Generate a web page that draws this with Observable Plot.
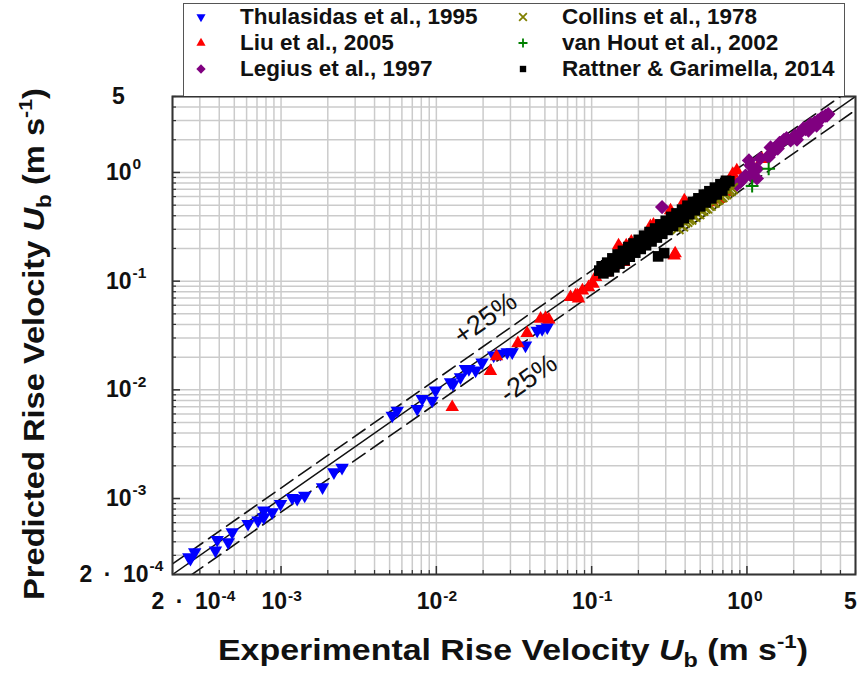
<!DOCTYPE html>
<html>
<head>
<meta charset="utf-8">
<script src="https://cdn.jsdelivr.net/npm/d3@7"></script>
<script src="https://cdn.jsdelivr.net/npm/@observablehq/plot@0.6"></script>
<style>
  body { margin: 0; background: #fff; }
  #chart { position: relative; width: 865px; height: 682px; font-family: "Liberation Sans", Arial, sans-serif; }
  #chart svg.main { position: absolute; left: 0; top: 0; overflow: visible; }
  #legend { position: absolute; left: 183px; top: 3px; width: 662px; height: 93px; box-sizing: border-box;
            border: 1.5px solid #555; border-bottom: none; background: #fff; }
  #legend .item { position: absolute; height: 26px; display: flex; align-items: center; }
  #legend .item svg { width: 34px; height: 26px; }
  #legend .item span { margin-left: 22px; font-weight: bold; font-size: 22.5px; color: #111; white-space: nowrap; }
</style>
</head>
<body>
<div id="chart"><div id="legend"></div></div>
<script>
// Experimental vs predicted Taylor-bubble rise velocity (m/s), per source study.
const thulasidas = [
  [2.55e-4, 2.89e-4], [2.61e-4, 2.79e-4], [2.78e-4, 3.21e-4], [3.78e-4, 3.33e-4], [3.88e-4, 4.17e-4],
  [4.57e-4, 3.96e-4], [4.85e-4, 4.90e-4], [6.13e-4, 5.85e-4], [7.11e-4, 6.28e-4], [7.74e-4, 6.73e-4],
  [7.74e-4, 7.76e-4], [8.77e-4, 7.48e-4], [9.92e-4, 8.94e-4], [1.18e-3, 1.015e-3], [1.27e-3, 9.94e-4],
  [1.42e-3, 1.066e-3], [1.85e-3, 1.27e-3], [2.19e-3, 1.75e-3], [2.47e-3, 1.92e-3],
  [5.20e-3, 5.80e-3], [5.60e-3, 6.45e-3], [7.53e-3, 6.69e-3], [8.11e-3, 8.27e-3], [9.40e-3, 7.97e-3],
  [9.88e-3, 9.86e-3], [0.01234, 0.01175], [0.0128, 0.0113], [0.0143, 0.01306], [0.0154, 0.0156],
  [0.0162, 0.0156], [0.0179, 0.0151], [0.0197, 0.0179], [0.0234, 0.0207], [0.0259, 0.0215],
  [0.0286, 0.0222], [0.0308, 0.0222], [0.0375, 0.0256], [0.0446, 0.0351], [0.048, 0.0364], [0.0518, 0.0377]
];
const liu = [
  [0.01265, 0.00692], [0.0223, 0.0149], [0.0244, 0.0203], [0.0335, 0.0268], [0.0384, 0.0332],
  [0.0469, 0.045], [0.0505, 0.0458], [0.053, 0.0443],
  [0.0731, 0.0712], [0.0787, 0.0737], [0.081, 0.0737], [0.0823, 0.0690], [0.0872, 0.082],
  [0.0955, 0.0879], [0.102, 0.0945], [0.106, 0.109], [0.114, 0.122], [0.123, 0.120], [0.132, 0.139],
  [0.139, 0.139], [0.149, 0.213], [0.153, 0.199], [0.161, 0.150], [0.167, 0.213], [0.180, 0.230],
  [0.239, 0.32], [0.250, 0.330], [0.340, 0.172], [0.345, 0.180], [0.322, 0.447], [0.395, 0.552],
  [0.402, 0.53], [0.56, 0.552], [0.60, 0.53], [0.66, 0.57], [0.70, 0.80], [0.74, 0.66],
  [0.80, 0.89], [0.81, 0.97], [0.86, 1.04], [1.25, 1.33]
];
const legius = [
  [0.284, 0.48],
  [0.862, 0.77], [0.909, 0.82], [0.935, 0.86], [0.979, 0.938], [1.03, 1.29], [1.054, 0.938],
  [1.054, 1.16], [1.08, 1.12], [1.13, 1.04], [1.16, 1.08], [1.16, 0.88], [1.22, 1.35], [1.38, 1.43],
  [1.38, 1.38], [1.42, 1.70], [1.49, 1.59], [1.58, 1.66], [1.62, 1.87], [1.66, 1.87], [1.73, 2.0],
  [1.80, 2.07], [1.91, 1.97], [1.97, 2.07], [2.04, 2.19], [2.10, 2.0], [2.21, 2.34], [2.31, 2.55],
  [2.38, 2.51], [2.49, 2.43], [2.56, 2.78], [2.73, 2.89], [2.81, 2.70], [2.87, 3.01], [2.98, 3.12],
  [3.07, 3.23], [3.21, 3.34], [3.28, 3.34], [3.34, 3.45]
];
const collins = [
  [0.348, 0.315], [0.36, 0.305], [0.373, 0.330], [0.385, 0.322], [0.395, 0.348], [0.41, 0.355],
  [0.42, 0.37], [0.435, 0.372], [0.45, 0.398], [0.462, 0.395], [0.478, 0.42], [0.49, 0.418],
  [0.505, 0.445], [0.52, 0.45], [0.535, 0.47], [0.55, 0.472], [0.565, 0.50], [0.58, 0.50],
  [0.598, 0.53], [0.615, 0.535], [0.632, 0.56], [0.65, 0.57], [0.67, 0.595], [0.69, 0.60],
  [0.71, 0.63], [0.73, 0.64], [0.755, 0.67], [0.78, 0.685], [0.805, 0.71]
];
const vanHout = [[1.08, 0.75], [1.38, 1.08]];
const rattner = [
  [0.112, 0.125], [0.116, 0.137], [0.119, 0.118], [0.122, 0.131], [0.126, 0.148], [0.129, 0.123],
  [0.133, 0.143], [0.136, 0.162], [0.140, 0.134], [0.143, 0.155], [0.147, 0.176], [0.151, 0.145],
  [0.155, 0.166], [0.159, 0.190], [0.163, 0.156], [0.167, 0.180], [0.172, 0.206], [0.176, 0.168],
  [0.181, 0.195], [0.186, 0.222], [0.191, 0.183], [0.196, 0.211], [0.201, 0.240], [0.207, 0.198],
  [0.212, 0.230], [0.218, 0.262], [0.224, 0.214], [0.230, 0.248], [0.236, 0.283], [0.243, 0.232],
  [0.249, 0.270], [0.256, 0.305], [0.263, 0.252], [0.270, 0.292], [0.277, 0.333], [0.285, 0.273],
  [0.292, 0.316], [0.300, 0.359], [0.308, 0.296], [0.317, 0.343], [0.325, 0.390], [0.334, 0.322],
  [0.343, 0.372], [0.352, 0.420], [0.362, 0.350], [0.372, 0.403], [0.382, 0.455], [0.392, 0.380],
  [0.403, 0.437], [0.414, 0.494], [0.425, 0.413], [0.437, 0.473], [0.449, 0.535], [0.461, 0.449],
  [0.474, 0.512], [0.487, 0.578], [0.500, 0.488], [0.514, 0.555], [0.528, 0.625], [0.543, 0.530],
  [0.558, 0.600], [0.573, 0.672], [0.589, 0.578], [0.605, 0.650], [0.622, 0.725], [0.639, 0.628],
  [0.657, 0.705], [0.675, 0.780], [0.694, 0.682], [0.713, 0.762], [0.733, 0.838], [0.770, 0.830],
  [0.124, 0.140], [0.138, 0.150], [0.150, 0.156], [0.161, 0.180], [0.174, 0.182], [0.188, 0.207],
  [0.203, 0.216], [0.221, 0.248], [0.239, 0.252], [0.259, 0.290], [0.280, 0.295], [0.304, 0.340],
  [0.328, 0.348], [0.355, 0.398], [0.383, 0.405], [0.414, 0.462], [0.445, 0.468], [0.480, 0.536],
  [0.516, 0.540], [0.555, 0.620], [0.596, 0.620], [0.640, 0.712], [0.686, 0.715], [0.725, 0.800],
  [0.268, 0.169], [0.293, 0.181]
];

// Axis range, decades and tick labels
const domain = [2e-4, 5];
const decades = [1e-3, 1e-2, 1e-1, 1];
const decadeExponents = ["-3", "-2", "-1", "0"];
const deviation = 0.25;            // ±25 % band
const bandLabels = ["+25%", "-25%"];

// Inverted triangle symbol for the Thulasidas data
const sqrt3 = Math.sqrt(3);
const triangleDown = {
  draw(context, size) {
    const y = -Math.sqrt(size / (sqrt3 * 3));
    context.moveTo(0, -y * 2);
    context.lineTo(-sqrt3 * y, y);
    context.lineTo(sqrt3 * y, y);
    context.closePath();
  }
};

const series = [
  {name: "Thulasidas et al., 1995", data: thulasidas, symbol: triangleDown, color: "#0000ff", r: 5, lr: 3.4, filled: true},
  {name: "Liu et al., 2005", data: liu, symbol: "triangle", color: "#ff0000", r: 5, lr: 3.4, filled: true},
  {name: "Legius et al., 1997", data: legius, symbol: "diamond2", color: "#800080", r: 6.4, lr: 4.2, filled: true},
  {name: "Collins et al., 1978", data: collins, symbol: "times", color: "#808000", r: 5, lr: 3.6, filled: false},
  {name: "van Hout et al., 2002", data: vanHout, symbol: "plus", color: "#008000", r: 4.2, lr: 3.0, filled: false},
  {name: "Rattner & Garimella, 2014", data: rattner, symbol: "square", color: "#000000", r: 6, lr: 3.6, filled: true}
];

const W = 865, H = 682;
const M = {left: 172, right: 10, top: 96, bottom: 108};
const frameH = H - M.top - M.bottom;
const frameW = W - M.left - M.right;

const gridTicks = d3.scaleLog().domain(domain).ticks(40);
const minorTicks = gridTicks.filter(t => !decades.some(d => Math.abs(d - t) / d < 1e-9));
const ends = domain;

const dotMarks = series.map(s => Plot.dot(s.data, {
  x: d => d[0], y: d => d[1],
  symbol: () => s.symbol, r: s.r,
  fill: s.filled ? s.color : "none",
  stroke: s.filled ? "none" : s.color,
  strokeWidth: s.filled ? 0 : 2
}));

const tickFont = {fontSize: 23, fontWeight: "bold", fill: "#111"};
const expFont = {fontSize: 15.5, fontWeight: "bold", fill: "#111"};
const decadeRows = decades.map((v, i) => ({v, exp: decadeExponents[i]}));
const lowLabel = "2\u2002·\u200210";

const svg = Plot.plot({
  width: W, height: H,
  marginLeft: M.left, marginRight: M.right, marginTop: M.top, marginBottom: M.bottom,
  x: {type: "log", domain, axis: null},
  y: {type: "log", domain, axis: null},
  style: {fontFamily: "Liberation Sans, Arial, sans-serif", background: "white", overflow: "visible"},
  marks: [
    // grid
    Plot.ruleX(gridTicks, {stroke: "#cbcbcb", strokeWidth: 1.5}),
    Plot.ruleY(gridTicks, {stroke: "#cbcbcb", strokeWidth: 1.5}),
    // inward tick marks
    Plot.tickX(decades, {x: d => d, insetTop: frameH - 8, stroke: "#333", strokeWidth: 1.5}),
    Plot.tickX(minorTicks, {x: d => d, insetTop: frameH - 4, stroke: "#333", strokeWidth: 1.2}),
    Plot.tickY(decades, {y: d => d, insetRight: frameW - 8, stroke: "#333", strokeWidth: 1.5}),
    Plot.tickY(minorTicks, {y: d => d, insetRight: frameW - 4, stroke: "#333", strokeWidth: 1.2}),
    // parity line and ±25 % band
    Plot.line(ends, {x: d => d, y: d => d, stroke: "#111", strokeWidth: 1.5, clip: true}),
    Plot.line(ends, {x: d => d, y: d => d * (1 + deviation), stroke: "#111", strokeWidth: 1.6, strokeDasharray: "15,7", clip: true}),
    Plot.line(ends, {x: d => d, y: d => d * (1 - deviation), stroke: "#111", strokeWidth: 1.6, strokeDasharray: "15,7", clip: true}),
    ...dotMarks,
    Plot.frame({stroke: "#333", strokeWidth: 2}),
    // band annotations
    Plot.text([{x: 0.0207, y: 0.0453, t: bandLabels[0]}, {x: 0.0392, y: 0.0127, t: bandLabels[1]}],
      {x: "x", y: "y", text: "t", rotate: -35, fontSize: 27, fill: "#111"}),
    // y tick labels
    Plot.text(decadeRows, {y: "v", text: () => "10", frameAnchor: "left", dx: -41, textAnchor: "end", ...tickFont}),
    Plot.text(decadeRows, {y: "v", text: "exp", frameAnchor: "left", dx: -40, dy: -8, textAnchor: "start", ...expFont}),
    Plot.text([5], {y: d => d, text: () => "5", frameAnchor: "left", dx: -54, textAnchor: "middle", ...tickFont}),
    Plot.text([2e-4], {y: d => d, text: () => lowLabel, frameAnchor: "left", dx: -24, textAnchor: "end", ...tickFont}),
    Plot.text([2e-4], {y: d => d, text: () => "-4", frameAnchor: "left", dx: -23, dy: -8, textAnchor: "start", ...expFont}),
    // x tick labels
    Plot.text(decadeRows, {x: "v", text: () => "10", frameAnchor: "bottom", dy: 34, dx: 6, textAnchor: "end", ...tickFont}),
    Plot.text(decadeRows, {x: "v", text: "exp", frameAnchor: "bottom", dy: 26, dx: 7, textAnchor: "start", ...expFont}),
    Plot.text([5], {x: d => d, text: () => "5", frameAnchor: "bottom", dy: 34, dx: -5, textAnchor: "middle", ...tickFont}),
    Plot.text([2e-4], {x: d => d, text: () => lowLabel, frameAnchor: "bottom", dy: 34, dx: 48, textAnchor: "end", ...tickFont}),
    Plot.text([2e-4], {x: d => d, text: () => "-4", frameAnchor: "bottom", dy: 26, dx: 49, textAnchor: "start", ...expFont})
  ]
});
svg.classList.add("main");
document.getElementById("chart").prepend(svg);

// Axis titles with italic U, subscript b and superscript -1
function axisTitle(sel, lead) {
  sel.attr("font-size", 29).attr("font-weight", "bold").attr("fill", "#111")
     .attr("text-anchor", "start")
     .attr("font-family", "Liberation Sans, Arial, sans-serif");
  sel.append("tspan").text(lead);
  sel.append("tspan").attr("font-style", "italic").text("U");
  sel.append("tspan").attr("font-size", 20).attr("dy", 7).text("b");
  sel.append("tspan").attr("dy", -7).text(" (m s");
  sel.append("tspan").attr("font-size", 19).attr("dy", -12).text("-1");
  sel.append("tspan").attr("dy", 12).text(")");
}
const root = d3.select(svg);
root.append("text").attr("x", 218).attr("y", 660)
  .attr("textLength", 590).attr("lengthAdjust", "spacingAndGlyphs")
  .call(axisTitle, "Experimental Rise Velocity ");
root.append("text").attr("transform", "translate(44,600) rotate(-90)")
  .attr("textLength", 512).attr("lengthAdjust", "spacingAndGlyphs")
  .call(axisTitle, "Predicted Rise Velocity ");

// Legend: two columns, three rows
const legend = d3.select("#legend");
const symbolTypes = {triangle: d3.symbolTriangle, diamond2: d3.symbolDiamond2, times: d3.symbolTimes,
                     plus: d3.symbolPlus, square: d3.symbolSquare};
series.forEach((s, i) => {
  const col = Math.floor(i / 3), row = i % 3;
  const item = legend.append("div").attr("class", "item")
    .style("left", (col === 0 ? 0 : 322) + "px").style("top", (row * 26) + "px");
  const type = typeof s.symbol === "string" ? symbolTypes[s.symbol] : s.symbol;
  item.append("svg").attr("viewBox", "-17 -13 34 26")
    .append("path").attr("d", d3.symbol(type, Math.PI * s.lr * s.lr)())
    .attr("fill", s.filled ? s.color : "none")
    .attr("stroke", s.filled ? "none" : s.color)
    .attr("stroke-width", s.filled ? 0 : 1.8);
  item.append("span").text(s.name);
});
</script>
</body>
</html>
